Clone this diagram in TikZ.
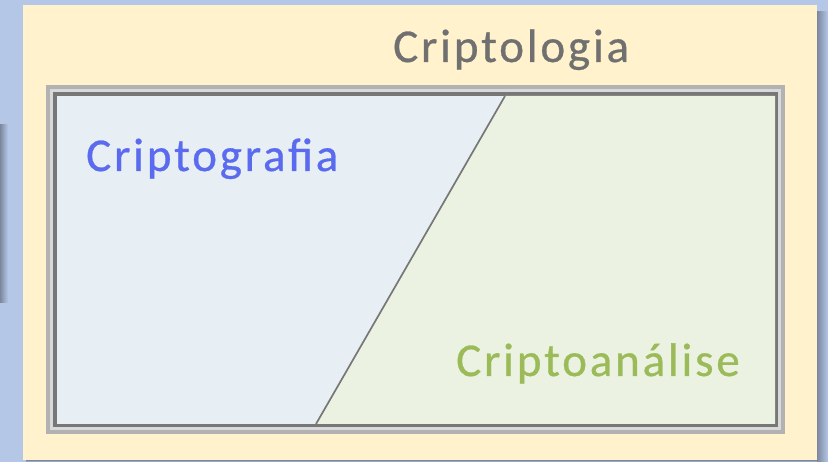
\documentclass[tikz,border=0pt]{standalone}
\usepackage{fontspec}
\setmainfont{Carlito}
\newfontfamily\labfont[LetterSpace=6,FakeBold=0.6]{Carlito}
\definecolor{bgblue}{HTML}{B4C7E7}
\definecolor{shadowc}{HTML}{7C879E}
\definecolor{cream}{HTML}{FFF2CC}
\definecolor{grayA}{HTML}{B2B2B2}
\definecolor{grayB}{HTML}{D9D9D9}
\definecolor{grayC}{HTML}{777777}
\definecolor{leftfill}{HTML}{E8EFF4}
\definecolor{rightfill}{HTML}{EBF2E1}
\definecolor{titlec}{HTML}{707070}
\definecolor{bluet}{HTML}{5A6BF0}
\definecolor{greent}{HTML}{9BBB59}
\begin{document}
\begin{tikzpicture}[x=1pt,y=-1pt,
  lab/.style={anchor=base west,inner sep=0pt,font=\labfont\fontsize{47}{52}\selectfont}]
\useasboundingbox (0,0) rectangle (828,462);
\fill[bgblue] (0,0) rectangle (828,462);
% shadows
\shade[left color=shadowc,right color=bgblue] (0,125) rectangle (8,303);
\shade[left color=shadowc,right color=bgblue] (817,12) rectangle (828,462);
\shade[top color=shadowc,bottom color=bgblue] (26,460) rectangle (817,462);
% outer box
\fill[cream] (23,5) rectangle (817,460);
% framed inner box
\fill[grayA] (46,85) rectangle (785,434);
\fill[grayB] (50,89) rectangle (781,430);
\fill[grayC] (53,92) rectangle (778,427);
\fill[leftfill] (57,96) rectangle (775,424);
\coordinate (top) at (505,96);
\coordinate (bot) at (316,424);
\fill[rightfill] (top) -- (775,96) -- (775,424) -- (bot) -- cycle;
\draw[grayC,line width=1.7pt] (top) -- (bot);
% labels
\node[lab,text=titlec] (tcripto) at (393,62) {Criptologia};
\node[lab,text=bluet] (tgrafia) at (86,171) {Criptografia};
\node[lab,text=greent] (tanalise) at (456,376) {Criptoanálise};
\end{tikzpicture}
\end{document}
